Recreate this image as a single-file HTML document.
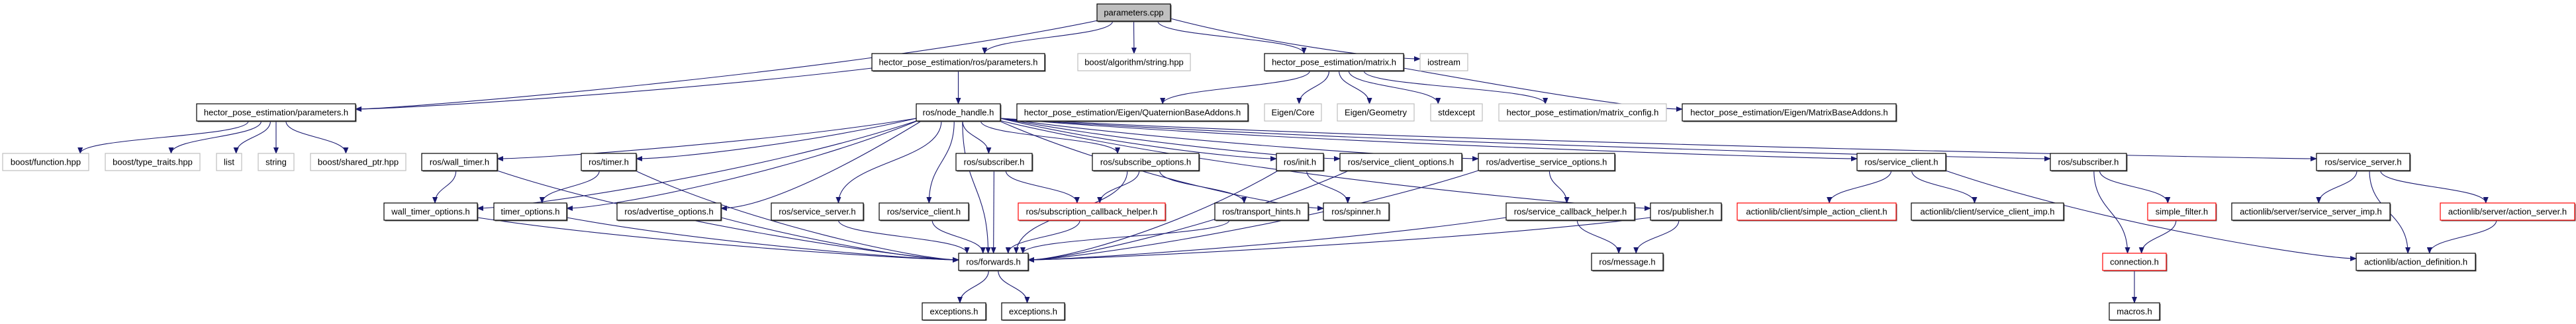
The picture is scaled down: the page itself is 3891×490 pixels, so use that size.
<!DOCTYPE html>
<html><head><meta charset="utf-8"><style>
html,body{margin:0;padding:0;background:#fff;}
svg text{font-family:"Liberation Sans",Arial,sans-serif;font-size:13px;fill:#000;}
</style></head><body>
<svg id="g" width="3891" height="485" xmlns="http://www.w3.org/2000/svg">
<defs><marker id="a" markerWidth="10" markerHeight="8" refX="9" refY="4" orient="auto" markerUnits="userSpaceOnUse"><path d="M0,0 L10,4 L0,8 z" fill="#191970"/></marker></defs>
<g id="edges" fill="none" stroke="#191970" stroke-width="1.1"></g>
<g id="nodes"></g>
</svg>
<div style="display:none" id="labels">
parameters.cpp hector_pose_estimation/ros/parameters.h boost/algorithm/string.hpp hector_pose_estimation/matrix.h iostream hector_pose_estimation/parameters.h ros/node_handle.h hector_pose_estimation/Eigen/QuaternionBaseAddons.h Eigen/Core Eigen/Geometry stdexcept hector_pose_estimation/matrix_config.h hector_pose_estimation/Eigen/MatrixBaseAddons.h boost/function.hpp boost/type_traits.hpp list string boost/shared_ptr.hpp ros/wall_timer.h ros/timer.h ros/subscriber.h ros/subscribe_options.h ros/init.h ros/service_client_options.h ros/advertise_service_options.h ros/service_client.h ros/service_server.h wall_timer_options.h timer_options.h ros/advertise_options.h ros/spinner.h ros/subscription_callback_helper.h ros/transport_hints.h ros/service_callback_helper.h ros/publisher.h actionlib/client/simple_action_client.h actionlib/client/service_client_imp.h simple_filter.h actionlib/server/service_server_imp.h actionlib/server/action_server.h ros/forwards.h ros/message.h connection.h actionlib/action_definition.h exceptions.h macros.h
</div>
<script>
var R=[6,81,157,232,307,383,458],H=26;
// id:[label,x1,x2,row,style] style: b black, g gray, r red, f filled
var N={
cpp:["parameters.cpp",1657,1768,0,"f"],
rpar:["hector_pose_estimation/ros/parameters.h",1317,1578,1,"b"],
bstr:["boost/algorithm/string.hpp",1628,1798,1,"g"],
mat:["hector_pose_estimation/matrix.h",1910,2120,1,"b"],
ios:["iostream",2145,2217,1,"g"],
hpar:["hector_pose_estimation/parameters.h",297,537,2,"b"],
nh:["ros/node_handle.h",1384,1511,2,"b"],
qba:["hector_pose_estimation/Eigen/QuaternionBaseAddons.h",1536,1885,2,"b"],
ecore:["Eigen/Core",1910,1996,2,"g"],
egeo:["Eigen/Geometry",2020,2136,2,"g"],
stdx:["stdexcept",2161,2239,2,"g"],
mcfg:["hector_pose_estimation/matrix_config.h",2264,2517,2,"g"],
mba:["hector_pose_estimation/Eigen/MatrixBaseAddons.h",2541,2864,2,"b"],
bfun:["boost/function.hpp",4,134,3,"g"],
btt:["boost/type_traits.hpp",159,302,3,"g"],
lst:["list",327,365,3,"g"],
strg:["string",390,444,3,"g"],
bsp:["boost/shared_ptr.hpp",469,613,3,"g"],
wt:["ros/wall_timer.h",637,751,3,"b"],
tm:["ros/timer.h",878,961,3,"b"],
sub1:["ros/subscriber.h",1444,1559,3,"b"],
sopt:["ros/subscribe_options.h",1650,1811,3,"b"],
init:["ros/init.h",1928,1999,3,"b"],
sco:["ros/service_client_options.h",2024,2208,3,"b"],
aso:["ros/advertise_service_options.h",2233,2439,3,"b"],
sc2:["ros/service_client.h",2805,2939,3,"b"],
sub2:["ros/subscriber.h",3097,3212,3,"b"],
ss2:["ros/service_server.h",3499,3640,3,"b"],
wto:["wall_timer_options.h",580,721,4,"b"],
to:["timer_options.h",746,856,4,"b"],
ao:["ros/advertise_options.h",932,1089,4,"b"],
ss1:["ros/service_server.h",1165,1304,4,"b"],
sc1:["ros/service_client.h",1328,1463,4,"b"],
sch:["ros/subscription_callback_helper.h",1538,1760,4,"r"],
th:["ros/transport_hints.h",1835,1976,4,"b"],
spin:["ros/spinner.h",1999,2098,4,"b"],
svch:["ros/service_callback_helper.h",2275,2469,4,"b"],
pub:["ros/publisher.h",2493,2600,4,"b"],
sac:["actionlib/client/simple_action_client.h",2624,2864,4,"r"],
sci:["actionlib/client/service_client_imp.h",2887,3117,4,"b"],
sfil:["simple_filter.h",3244,3347,4,"r"],
ssi:["actionlib/server/service_server_imp.h",3371,3610,4,"b"],
asrv:["actionlib/server/action_server.h",3686,3889,4,"r"],
fw:["ros/forwards.h",1448,1553,5,"b"],
msg:["ros/message.h",2404,2512,5,"b"],
conn:["connection.h",3176,3272,5,"r"],
adef:["actionlib/action_definition.h",3559,3739,5,"b"],
ex1:["exceptions.h",1393,1489,6,"b"],
ex2:["exceptions.h",1513,1608,6,"b"],
mac:["macros.h",3186,3262,6,"b"]};
var E="cpp hpar,cpp rpar,cpp bstr,cpp mat,cpp ios,rpar hpar,rpar nh,hpar bfun,hpar btt,hpar lst,hpar strg,hpar bsp,mat qba,mat ecore,mat egeo,mat stdx,mat mcfg,mat mba,nh wt,nh tm,nh wto,nh to,nh ao,nh ss1,nh sc1,nh sub1,nh sopt,nh init,nh sco,nh aso,nh pub,nh sc2,nh sub2,nh ss2,nh fw,nh spin,wt wto,wt fw,tm to,tm fw,wto fw,to fw,ao fw,ss1 fw,sc1 fw,sub1 fw,sub1 sch,sopt sch,sopt fw,sopt th,sch fw,th fw,init spin,init fw,sco fw,aso fw,aso svch,svch fw,svch msg,pub fw,pub msg,fw ex1,fw ex2,sc2 sac,sc2 sci,sc2 adef,sub2 conn,sub2 sfil,sfil conn,conn mac,ss2 ssi,ss2 adef,ss2 asrv,asrv adef".split(",");
var NS="http://www.w3.org/2000/svg",eg=document.getElementById("edges"),ng=document.getElementById("nodes");
function el(t,a,p){var e=document.createElementNS(NS,t);for(var k in a)e.setAttribute(k,a[k]);p.appendChild(e);return e;}
E.forEach(function(s){var p=s.split(" "),A=N[p[0]],B=N[p[1]];
 var ac=(A[1]+A[2])/2,bc=(B[1]+B[2])/2,ay=R[A[3]]+H,by=R[B[3]],d;
 var sx=Math.max(A[1]+6,Math.min(A[2]-6,ac+(bc-ac)*0.12));
 var dr=B[3]-A[3],dx=bc-ac;
 if(dr>=1&&Math.abs(dx)>(dr==1?450:250)&&!(p[1]=="fw"&&Math.abs(dx)<200)){
   var ex=dx>0?B[1]:B[2],ey=by+ (p[1]=="fw"?10:8),sy=ay-2;
   var s2=dx>0?A[2]:A[1];if(dr==1&&Math.abs(dx)>450){sx=s2;sy=R[A[3]]+H-4;}
   d="M"+sx+","+sy+" C"+(sx+dx*0.3)+","+(sy+(ey-sy)*0.6)+" "+(ex-(dx>0?60:-60))+","+ey+" "+ex+","+ey;
 } else {
   var ex=bc+(ac-bc)*0.15;ex=Math.max(B[1]+8,Math.min(B[2]-8,ex));
   var my=(ay+by)/2;d="M"+sx+","+ay+" C"+sx+","+my+" "+ex+","+my+" "+ex+","+by;
 }
 el("path",{d:d,"marker-end":"url(#a)"},eg);});
for(var k in N){var n=N[k],y=R[n[3]],st=n[4];
 if(st!="g")el("rect",{x:n[1]+1.5,y:y+1.5,width:n[2]-n[1],height:H,fill:"#555"},ng);
 el("rect",{x:n[1],y:y,width:n[2]-n[1],height:H,fill:st=="f"?"#bfbfbf":"#fff",stroke:st=="g"?"#bfbfbf":st=="r"?"#ff0000":"#000","stroke-width":1.2},ng);
 var t=el("text",{x:(n[1]+n[2])/2,y:y+17.5,"text-anchor":"middle"},ng);t.textContent=n[0];}
</script>
</body></html>
